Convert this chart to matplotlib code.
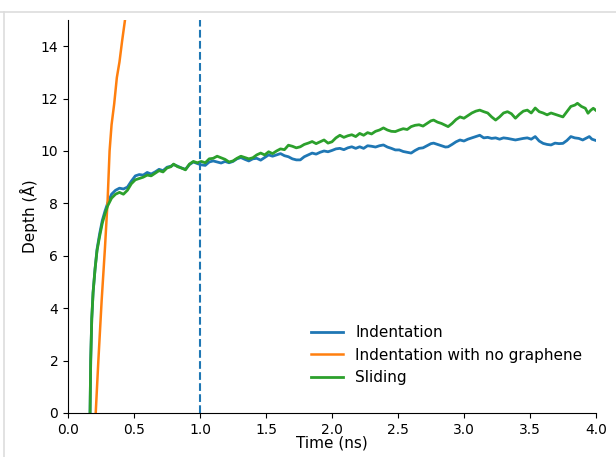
import matplotlib
matplotlib.use('Agg')
import matplotlib.pyplot as plt
from matplotlib.lines import Line2D

# Indentation run (depth in angstrom vs time in ns)
t_indent = [0.167, 0.172, 0.180, 0.190, 0.205, 0.220, 0.240, 0.260, 0.280, 0.300,
            0.330, 0.360, 0.390, 0.420, 0.450, 0.480, 0.510, 0.540, 0.570, 0.600,
            0.630, 0.660, 0.690, 0.720, 0.750, 0.780, 0.800, 0.830, 0.860, 0.890,
            0.920, 0.950, 0.980, 1.010, 1.040, 1.070, 1.100, 1.130, 1.160, 1.190,
            1.220, 1.250, 1.280, 1.310, 1.340, 1.370, 1.400, 1.430, 1.460, 1.490,
            1.520, 1.550, 1.580, 1.610, 1.640, 1.670, 1.700, 1.730, 1.760, 1.790,
            1.820, 1.850, 1.880, 1.910, 1.940, 1.970, 2.000, 2.030, 2.060, 2.090,
            2.120, 2.150, 2.180, 2.210, 2.240, 2.270, 2.300, 2.330, 2.360, 2.390,
            2.420, 2.450, 2.480, 2.510, 2.540, 2.570, 2.600, 2.630, 2.660, 2.690,
            2.720, 2.750, 2.770, 2.800, 2.830, 2.860, 2.880, 2.910, 2.940, 2.970,
            3.000, 3.030, 3.060, 3.090, 3.120, 3.150, 3.180, 3.210, 3.240, 3.270,
            3.300, 3.330, 3.360, 3.390, 3.420, 3.450, 3.480, 3.510, 3.540, 3.570,
            3.600, 3.630, 3.660, 3.690, 3.720, 3.750, 3.780, 3.810, 3.840, 3.870,
            3.900, 3.930, 3.950, 3.970, 4.000]
d_indent = [0.0, 2.0, 3.6, 4.6, 5.5, 6.25, 6.85, 7.35, 7.7, 8.0,
            8.35, 8.5, 8.58, 8.55, 8.62, 8.85, 9.05, 9.1, 9.08, 9.18,
            9.12, 9.2, 9.3, 9.25, 9.38, 9.42, 9.48, 9.42, 9.35, 9.3,
            9.48, 9.58, 9.52, 9.47, 9.45, 9.58, 9.62, 9.58, 9.54, 9.6,
            9.55, 9.6, 9.7, 9.75, 9.68, 9.62, 9.7, 9.72, 9.65, 9.75,
            9.85, 9.8, 9.85, 9.9, 9.82, 9.78, 9.7, 9.66, 9.66, 9.78,
            9.85, 9.92, 9.88, 9.95, 10.0, 9.97, 10.02, 10.08, 10.1, 10.05,
            10.12, 10.16, 10.1, 10.16, 10.1, 10.2, 10.18, 10.15, 10.2, 10.23,
            10.15, 10.1, 10.04, 10.04, 9.98, 9.95, 9.92, 10.02, 10.1, 10.12,
            10.2, 10.28, 10.3, 10.25, 10.2, 10.15, 10.16, 10.25, 10.35, 10.42,
            10.38, 10.45, 10.5, 10.55, 10.6, 10.5, 10.52, 10.48, 10.5, 10.45,
            10.5, 10.48, 10.45, 10.42, 10.45, 10.48, 10.5, 10.45, 10.55, 10.38,
            10.29, 10.25, 10.23, 10.3, 10.28, 10.29, 10.4, 10.55, 10.5, 10.48,
            10.42, 10.5, 10.55, 10.45, 10.4]

# Indentation without graphene: goes off the top of the plot quickly
t_bare = [0.21, 0.23, 0.255, 0.28, 0.30, 0.315, 0.33, 0.35, 0.37, 0.39, 0.41, 0.44]
d_bare = [0.0, 2.0, 4.3, 6.3, 8.1, 10.0, 11.0, 11.8, 12.8, 13.4, 14.2, 15.3]

# Sliding run
t_slide = [0.167, 0.172, 0.180, 0.190, 0.205, 0.220, 0.240, 0.260, 0.280, 0.300,
           0.330, 0.360, 0.390, 0.420, 0.450, 0.480, 0.510, 0.540, 0.570, 0.600,
           0.630, 0.660, 0.690, 0.720, 0.750, 0.780, 0.800, 0.830, 0.860, 0.890,
           0.920, 0.950, 0.980, 1.010, 1.040, 1.070, 1.100, 1.130, 1.160, 1.190,
           1.220, 1.250, 1.280, 1.310, 1.340, 1.370, 1.400, 1.430, 1.460, 1.490,
           1.520, 1.550, 1.580, 1.610, 1.640, 1.670, 1.700, 1.730, 1.760, 1.790,
           1.820, 1.850, 1.880, 1.910, 1.940, 1.970, 2.000, 2.030, 2.060, 2.090,
           2.120, 2.150, 2.180, 2.210, 2.240, 2.270, 2.300, 2.330, 2.360, 2.390,
           2.420, 2.450, 2.480, 2.510, 2.540, 2.570, 2.600, 2.630, 2.660, 2.690,
           2.720, 2.750, 2.770, 2.800, 2.830, 2.860, 2.880, 2.910, 2.940, 2.970,
           3.000, 3.030, 3.060, 3.090, 3.120, 3.150, 3.180, 3.210, 3.240, 3.270,
           3.300, 3.330, 3.360, 3.390, 3.420, 3.450, 3.480, 3.510, 3.540, 3.570,
           3.600, 3.630, 3.660, 3.690, 3.720, 3.750, 3.780, 3.810, 3.840, 3.860,
           3.890, 3.920, 3.940, 3.960, 3.980, 4.000]
d_slide = [0.0, 2.0, 3.6, 4.6, 5.5, 6.2, 6.75, 7.25, 7.6, 7.9,
           8.2, 8.35, 8.42, 8.35, 8.5, 8.75, 8.9, 8.95, 9.0, 9.08,
           9.05, 9.15, 9.25, 9.2, 9.35, 9.4, 9.5, 9.4, 9.35, 9.28,
           9.5, 9.6, 9.55, 9.6, 9.55, 9.7, 9.72, 9.8, 9.74, 9.68,
           9.58, 9.62, 9.72, 9.8, 9.75, 9.7, 9.74, 9.85, 9.92, 9.85,
           9.97, 9.9, 10.0, 10.08, 10.05, 10.22, 10.18, 10.12, 10.16, 10.25,
           10.3, 10.36, 10.28, 10.35, 10.42, 10.3, 10.35, 10.5, 10.6, 10.52,
           10.58, 10.62, 10.55, 10.67, 10.6, 10.7, 10.65, 10.75, 10.8, 10.88,
           10.8, 10.75, 10.74, 10.8, 10.85, 10.82, 10.93, 10.98, 11.0, 10.95,
           11.05, 11.15, 11.18, 11.1, 11.05, 10.98, 10.93, 11.05, 11.2, 11.3,
           11.25, 11.35, 11.45, 11.52, 11.56, 11.5, 11.45, 11.3, 11.18, 11.3,
           11.45, 11.5, 11.42, 11.25, 11.4, 11.52, 11.56, 11.45, 11.64, 11.5,
           11.45, 11.38, 11.45, 11.4, 11.35, 11.3, 11.5, 11.7, 11.75, 11.82,
           11.7, 11.63, 11.44, 11.55, 11.63, 11.55]

fig = plt.figure(figsize=(6.16, 4.57), dpi=100)
ax = fig.add_axes([0.1104, 0.0963, 0.857, 0.86])

ax.plot(t_indent, d_indent, color='C0', lw=2.0, label='Indentation')
ax.plot(t_bare, d_bare, color='C1', lw=1.8, label='Indentation with no graphene')
ax.plot(t_slide, d_slide, color='C2', lw=2.0, label='Sliding')
ax.axvline(1.0, color='C0', ls='--', lw=1.5)

ax.set_xlim(0, 4)
ax.set_ylim(0, 15)
ax.set_xticks([0.0, 0.5, 1.0, 1.5, 2.0, 2.5, 3.0, 3.5, 4.0])
ax.set_yticks([0, 2, 4, 6, 8, 10, 12, 14])
ax.tick_params(labelsize=10)
ax.spines['top'].set_visible(False)
ax.spines['right'].set_visible(False)
ax.set_xlabel('Time (ns)', fontsize=11, labelpad=-1)
ax.set_ylabel('Depth (Å)', fontsize=11, labelpad=2)
ax.legend(loc='lower right', frameon=False, fontsize=11, handlelength=2.1,
          bbox_to_anchor=(1.0, 0.035))

# thin grey frame along the top and left of the canvas
fig.add_artist(Line2D([0, 1], [1 - 11.5 / 457, 1 - 11.5 / 457], color='#dddddd', lw=1.2))
fig.add_artist(Line2D([3.5 / 616, 3.5 / 616], [0, 1 - 11.5 / 457], color='#dddddd', lw=1.2))

plt.savefig('out.png', dpi=100)
